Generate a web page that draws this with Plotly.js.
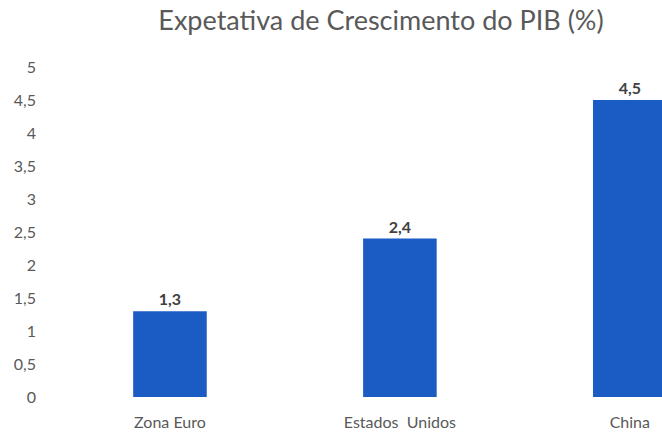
<!DOCTYPE html>
<html>
<head>
<meta charset="utf-8">
<script src="https://cdn.plot.ly/plotly-3.0.1.min.js"></script>
<style>html,body{margin:0;padding:0;overflow:hidden;background:#fff}</style>
</head>
<body>
<div id="chart" style="width:662px;height:432px"></div>
<script>
const categories = ["Zona Euro", "Estados  Unidos", "China"];
const values = [1.3, 2.4, 4.5];
const titleText = "Expetativa de Crescimento do PIB (%)";

const trace = {
  type: "bar",
  x: categories,
  y: values,
  marker: {color: "#1a5cc4"},
  text: values.map(v => v.toFixed(1).replace(".", ",")),
  textposition: "outside",
  cliponaxis: false,
  textfont: {family: "Lato, sans-serif", size: 16, color: "#404040", weight: "bold"},
  hoverinfo: "none"
};

const layout = {
  width: 662, height: 432,
  margin: {l: 55, r: 0, t: 67, b: 35},
  paper_bgcolor: "#ffffff", plot_bgcolor: "#ffffff",
  separators: ", ",
  bargap: 0.68,
  showlegend: false,
  title: {
    text: titleText,
    x: 381/662, xref: "container", xanchor: "center",
    y: 0.953, yref: "container", yanchor: "middle",
    font: {family: "Lato, sans-serif", size: 27, color: "#595959"}
  },
  xaxis: {
    type: "category",
    range: [-0.5, 2.14],
    showline: false, showgrid: false, zeroline: false,
    ticks: "",
    tickfont: {family: "Lato, sans-serif", size: 16, color: "#595959"},
    ticklabelstandoff: 14
  },
  yaxis: {
    range: [0, 5],
    dtick: 0.5, tick0: 0,
    showline: false, showgrid: false, zeroline: false,
    ticks: "",
    tickfont: {family: "Lato, sans-serif", size: 16, color: "#595959"},
    ticklabelstandoff: 18
  }
};

Plotly.newPlot("chart", [trace], layout, {displayModeBar: false, staticPlot: true});
</script>
</body>
</html>
